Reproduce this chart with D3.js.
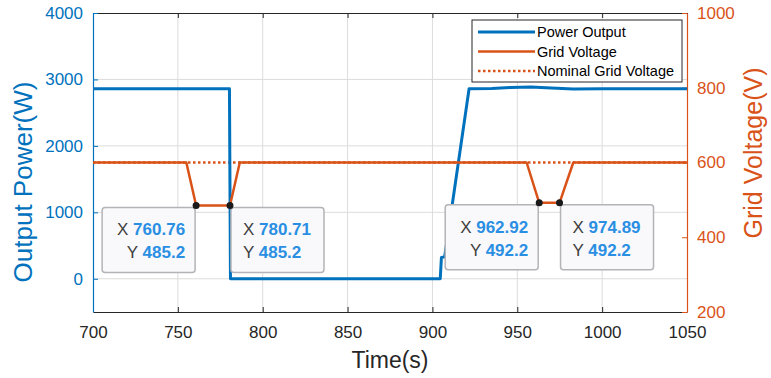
<!DOCTYPE html>
<html>
<head>
<meta charset="utf-8">
<style>
  body { margin: 0; background: #fff; }
  svg text { font-family: "Liberation Sans", Arial, sans-serif; }
  .grid line { stroke: #dcdcdc; stroke-width: 1px; }
  .tip-box { fill: #f9f9fb; stroke: #b4b4b8; stroke-width: 1.5px; }
</style>
</head>
<body>
<div id="chart"></div>
<script src="https://cdn.jsdelivr.net/npm/d3@7/dist/d3.min.js"></script>
<script>
// power output (left axis)
var powerTime = [700, 780.4, 781.0, 904.6, 905.3, 907.2, 921.6, 935, 946, 958, 970, 983, 1000, 1050];
var powerW    = [2860, 2860, 0, 0, 320, 330, 2860, 2865, 2880, 2885, 2870, 2855, 2860, 2860];

// grid voltage (right axis)
var voltTime = [700, 755, 760.76, 780.71, 786.5, 955.5, 962.92, 974.89, 983, 1050];
var voltV    = [600, 600, 485.2, 485.2, 600, 600, 492.2, 492.2, 600, 600];

var nominalTime = [700, 1050];
var nominalV    = [600, 600];

// data tips
var tipX    = [760.76, 780.71, 962.92, 974.89];
var tipY    = [485.2, 485.2, 492.2, 492.2];
var tipSide = ["left", "right", "left", "right"];

var xTicks = [700, 750, 800, 850, 900, 950, 1000, 1050];
var leftTicks = [0, 1000, 2000, 3000, 4000];
var rightTicks = [200, 400, 600, 800, 1000];

var legendNames = ["Power Output", "Grid Voltage", "Nominal Grid Voltage"];

var blue = "#0072BD", orange = "#D95319", tipBlue = "#2a8fe3";

var W = 771, H = 378;
var margin = { top: 13, right: 84, bottom: 66, left: 93 };
var width = W - margin.left - margin.right,
    height = H - margin.top - margin.bottom;

var svg = d3.select("#chart").append("svg")
    .attr("width", W)
    .attr("height", H);
var g = svg.append("g")
    .attr("transform", "translate(" + margin.left + "," + margin.top + ")");

var x = d3.scaleLinear().domain([700, 1050]).range([0, width]);
var yL = d3.scaleLinear().domain([-500, 4000]).range([height, 0]);
var yR = d3.scaleLinear().domain([200, 1000]).range([height, 0]);
var fmt = d3.format("d");

// grid
g.append("g").attr("class", "grid")
  .selectAll("line").data(xTicks.slice(1, -1)).join("line")
    .attr("x1", d => x(d)).attr("x2", d => x(d))
    .attr("y1", 0).attr("y2", height);
g.append("g").attr("class", "grid")
  .selectAll("line").data(leftTicks.slice(0, -1)).join("line")
    .attr("x1", 0).attr("x2", width)
    .attr("y1", d => yL(d)).attr("y2", d => yL(d));

// axes
var xAxis = g.append("g")
    .attr("transform", "translate(0," + height + ")")
    .call(d3.axisBottom(x).tickValues(xTicks).tickFormat(fmt).tickSize(-5).tickSizeOuter(0).tickPadding(14));
xAxis.select(".domain").attr("stroke", "#262626").attr("stroke-width", 1.2);
xAxis.selectAll(".tick line").attr("stroke", "#262626");
xAxis.selectAll(".tick text").attr("fill", "#262626").style("font-size", "17px");

var xTop = g.append("g")
    .call(d3.axisTop(x).tickValues(xTicks).tickSize(-5).tickSizeOuter(0).tickFormat(""));
xTop.select(".domain").attr("stroke", "#262626").attr("stroke-width", 1.2);
xTop.selectAll(".tick line").attr("stroke", "#262626");

var leftAxis = g.append("g")
    .call(d3.axisLeft(yL).tickValues(leftTicks).tickFormat(fmt).tickSize(-5).tickSizeOuter(0).tickPadding(10));
leftAxis.select(".domain").attr("stroke", blue).attr("stroke-width", 1.2);
leftAxis.selectAll(".tick line").attr("stroke", blue);
leftAxis.selectAll(".tick text").attr("fill", blue).style("font-size", "17px");

var rightAxis = g.append("g")
    .attr("transform", "translate(" + width + ",0)")
    .call(d3.axisRight(yR).tickValues(rightTicks).tickFormat(fmt).tickSize(-5).tickSizeOuter(0).tickPadding(10));
rightAxis.select(".domain").attr("stroke", orange).attr("stroke-width", 1.2);
rightAxis.selectAll(".tick line").attr("stroke", orange);
rightAxis.selectAll(".tick text").attr("fill", orange).style("font-size", "17px");

// lines
var powerLine = d3.line().x(d => x(d[0])).y(d => yL(d[1]));
var voltLine = d3.line().x(d => x(d[0])).y(d => yR(d[1]));

g.append("path")
  .attr("d", voltLine(d3.zip(nominalTime, nominalV)))
  .attr("fill", "none").attr("stroke", orange).attr("stroke-width", 2.5)
  .attr("stroke-dasharray", "2.5,2.5");

g.append("path")
  .attr("d", powerLine(d3.zip(powerTime, powerW)))
  .attr("fill", "none").attr("stroke", blue).attr("stroke-width", 3)
  .attr("stroke-linejoin", "round");

g.append("path")
  .attr("d", voltLine(d3.zip(voltTime, voltV)))
  .attr("fill", "none").attr("stroke", orange).attr("stroke-width", 2.5)
  .attr("stroke-linejoin", "round");

// data tips
var tipW = 93, tipH = 65;
tipX.forEach(function (tx, i) {
  var px = x(tx), py = yR(tipY[i]);
  var bx = tipSide[i] === "left" ? px - tipW - 1 : px + 1;
  var by = py + 2;
  var tip = g.append("g");
  tip.append("rect").attr("class", "tip-box")
    .attr("x", bx).attr("y", by).attr("width", tipW).attr("height", tipH)
    .attr("rx", 3);
  var rows = [["X", d3.format(".2f")(tx)], ["Y", String(tipY[i])]];
  rows.forEach(function (r, j) {
    var t = tip.append("text")
      .attr("x", tipSide[i] === "left" ? bx + tipW - 10 : bx + 12)
      .attr("y", by + 28 + j * 23)
      .attr("text-anchor", tipSide[i] === "left" ? "end" : "start")
      .style("font-size", "17px");
    t.append("tspan").attr("fill", "#404040").text(r[0] + " ");
    t.append("tspan").attr("fill", tipBlue).attr("font-weight", "bold").text(r[1]);
  });
  g.append("circle").attr("cx", px).attr("cy", py).attr("r", 3.5)
    .attr("fill", "#1a1a1a");
});

// legend
var lg = g.append("g").attr("transform", "translate(" + (472 - margin.left) + "," + (20 - margin.top) + ")");
lg.append("rect").attr("width", 210).attr("height", 62)
  .attr("fill", "#fff").attr("stroke", "#262626").attr("stroke-width", 1);
var legColor = [blue, orange, orange], legDash = [null, null, "2.5,2.5"], legWidth = [3, 2.5, 2.5];
legendNames.forEach(function (name, i) {
  var yy = 12 + i * 19.5;
  lg.append("line").attr("x1", 6).attr("x2", 63).attr("y1", yy).attr("y2", yy)
    .attr("stroke", legColor[i]).attr("stroke-width", legWidth[i])
    .attr("stroke-dasharray", legDash[i]);
  lg.append("text").attr("x", 65).attr("y", yy + 5)
    .attr("fill", "#000").style("font-size", "14.5px").text(name);
});

// axis titles
svg.append("text")
  .attr("transform", "translate(32,182) rotate(-90)")
  .attr("text-anchor", "middle").attr("fill", blue)
  .style("font-size", "26px").text("Output Power(W)");
svg.append("text")
  .attr("transform", "translate(762,153) rotate(-90)")
  .attr("text-anchor", "middle").attr("fill", orange)
  .style("font-size", "25px").text("Grid Voltage(V)");
svg.append("text")
  .attr("x", margin.left + width / 2).attr("y", 368)
  .attr("text-anchor", "middle").attr("fill", "#262626")
  .style("font-size", "23px").text("Time(s)");
</script>
</body>
</html>
